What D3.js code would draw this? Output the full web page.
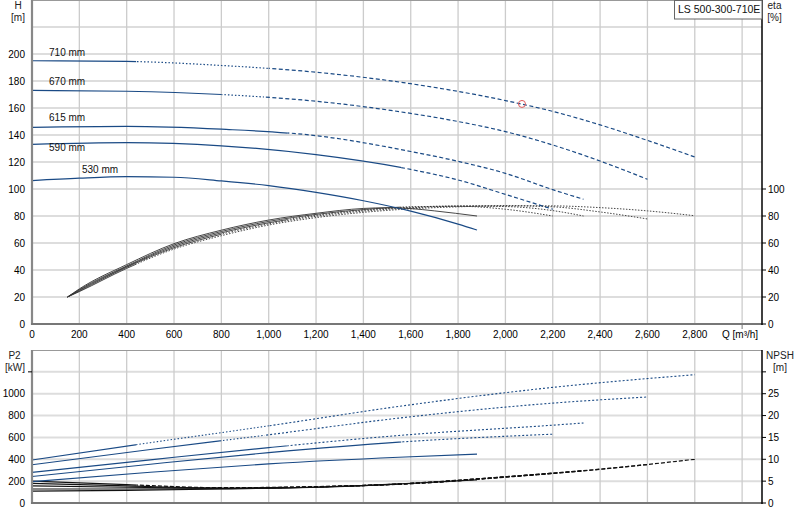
<!DOCTYPE html>
<html>
<head>
<meta charset="utf-8">
<script src="https://cdn.jsdelivr.net/npm/d3@7"></script>
<style>
  body { margin: 0; background: #fff; }
  svg { font-family: "Liberation Sans", Arial, sans-serif; }
</style>
</head>
<body>
<div id="chart"></div>
<script>
// Impeller diameters, largest first
var diameters = ["710 mm", "670 mm", "615 mm", "590 mm", "530 mm"];

// Q-H curves [Q m3/h, H m]
var head710 = [[0,195],[400,194.5],[800,191.5],[1200,186.5],[1600,178],[2000,165.5],[2200,157.5],[2400,147.5],[2600,136],[2800,123.7]];
var head670 = [[0,173],[400,172.4],[800,170],[1200,165],[1600,156],[1800,150],[2000,142.5],[2200,132.6],[2400,120.7],[2600,107.2]];
var head615 = [[0,145.7],[400,146.4],[800,144.3],[1200,139.5],[1600,127.8],[1800,120.5],[2000,111.6],[2200,99.5],[2330,92.4]];
var head590 = [[0,133.1],[400,134.3],[800,132],[1200,125.4],[1600,114.5],[1800,106.7],[2000,96],[2200,85]];
var head530 = [[0,106.2],[200,108],[400,109.1],[600,108.7],[800,106],[1000,102.5],[1200,97.5],[1400,91.3],[1600,83.6],[1800,74],[1880,69.6]];

// efficiency curves [Q, eta %]
var eta710 = [[150,20],[200,24],[400,41.2],[600,55.5],[800,65.4],[1000,73.3],[1200,78.8],[1400,82.7],[1600,85.3],[1800,86.8],[2000,87.6],[2200,87.5],[2400,86.2],[2600,83.8],[2800,80.2]];
var eta670 = [[150,20],[200,24.5],[400,42],[600,56.5],[800,66.5],[1000,74.2],[1200,79.8],[1400,83.6],[1600,86],[1800,87.3],[2000,87.6],[2200,86.8],[2400,83],[2600,77.8]];
var eta615 = [[150,20],[200,25],[400,42.5],[600,57.5],[800,67.5],[1000,75],[1200,80.5],[1400,84.3],[1600,86.5],[1800,87.4],[2000,87],[2200,84],[2330,80]];
var eta590 = [[150,20],[200,25.5],[400,43],[600,58.5],[800,68.5],[1000,76],[1200,81.2],[1400,84.8],[1600,86.8],[1800,87.2],[2000,85],[2200,80]];
var eta530 = [[150,20],[200,26],[400,44],[600,59.5],[800,69.5],[1000,77],[1200,82],[1400,85.6],[1500,86.1],[1600,85.5],[1700,83.8],[1880,80]];

// shaft power P2 [Q, kW]
var power710 = [[0,394],[500,552],[1000,706],[1550,884],[2200,1058],[2800,1174]];
var power670 = [[0,350],[500,490],[1000,624],[1550,777],[2200,914],[2600,970]];
var power615 = [[0,280],[500,395],[1000,507],[1550,618],[2200,712],[2330,732]];
var power590 = [[0,242],[500,355],[1000,461],[1550,557],[2200,630]];
var power530 = [[0,195],[500,282],[1000,358],[1550,419],[1880,447]];

// NPSH [Q, m]
var npsh710 = [[0,5.0],[400,4.2],[800,3.5],[1200,3.75],[1600,4.4],[2000,5.9],[2400,7.7],[2800,10.0]];
var npsh670 = [[0,4.5],[400,3.9],[800,3.4],[1200,3.7],[1600,4.45],[2000,5.95],[2400,7.75],[2600,8.8]];
var npsh615 = [[0,3.9],[400,3.6],[800,3.4],[1200,3.7],[1600,4.5],[2000,6.0],[2330,7.4]];
var npsh590 = [[0,3.2],[400,3.2],[800,3.3],[1200,3.65],[1600,4.5],[2000,6.0],[2200,6.8]];
var npsh530 = [[0,2.7],[400,2.9],[800,3.2],[1200,3.6],[1600,4.5],[1880,5.3]];

// where each curve stops being solid / dotted (Q)
var solidTo = [440, 800, 1080, 1560, 1880];
var dottedTo = [1000, 980, 1080, 1560, 1880];

// duty point
var dutyPoint = [2070, 163];

// tick labels
var qTicks = [0,200,400,600,800,1000,1200,1400,1600,1800,2000,2200,2400,2600,2800];
var hTicks = [0,20,40,60,80,100,120,140,160,180,200];
var etaTicks = [0,20,40,60,80,100];
var p2Ticks = [0,200,400,600,800,1000];
var npshTicks = [0,5,10,15,20,25];

var headCurves = [head710, head670, head615, head590, head530];
var etaCurves = [eta710, eta670, eta615, eta590, eta530];
var powerCurves = [power710, power670, power615, power590, power530];
var npshCurves = [npsh710, npsh670, npsh615, npsh590, npsh530];

var svgWidth = 800;
var svgHeight = 520;
var navy = "#1a4a85";

var svg = d3.select("#chart")
  .append("svg")
  .attr("width", svgWidth)
  .attr("height", svgHeight);
var defs = svg.append("defs");

// scales
var xScale = d3.scaleLinear().domain([0, 3084]).range([32, 762]);
var hScale = d3.scaleLinear().domain([0, 240]).range([324, 0]);
var etaScale = d3.scaleLinear().domain([0, 240]).range([324, 0]);
var p2Scale = d3.scaleLinear().domain([0, 1400]).range([503, 350]);
var npshScale = d3.scaleLinear().domain([0, 35]).range([503, 350]);

// grid
function drawGrid(yScale, yTop, yBottom, hLines) {
  var g = svg.append("g");
  g.selectAll(".hg").data(hLines).enter().append("line")
    .attr("x1", 32).attr("x2", 762)
    .attr("y1", d => yScale(d)).attr("y2", d => yScale(d))
    .attr("stroke", "#dddddd").attr("stroke-width", 2);
  g.selectAll(".vg").data(d3.range(200, 3001, 200)).enter().append("line")
    .attr("x1", d => xScale(d)).attr("x2", d => xScale(d))
    .attr("y1", yTop).attr("y2", yBottom)
    .attr("stroke", "#cccccc").attr("stroke-width", 1.3);
  // frame top
  g.append("line").attr("x1", 32).attr("x2", 762).attr("y1", yTop + 0.5).attr("y2", yTop + 0.5)
    .attr("stroke", "#999").attr("stroke-width", 1);
}
drawGrid(hScale, 0, 324, d3.range(20, 221, 20));
drawGrid(p2Scale, 350, 503, d3.range(200, 1201, 200));

// curve with solid / dotted / dashed segments
var clipCount = 0;
function drawStyled(points, yScale, i, dashes, color, width) {
  var breaks = [0, solidTo[i], dottedTo[i], 99999];
  var line = d3.line()
    .x(d => xScale(d[0]))
    .y(d => yScale(d[1]))
    .curve(d3.curveMonotoneX);
  for (var j = 0; j < 3; j++) {
    if (breaks[j + 1] <= breaks[j]) continue;
    var x0 = j == 0 ? 0 : xScale(breaks[j]);
    var x1 = j == 2 ? svgWidth : xScale(breaks[j + 1]);
    var id = "clip" + (clipCount++);
    defs.append("clipPath").attr("id", id)
      .append("rect").attr("x", x0).attr("y", 0)
      .attr("width", x1 - x0).attr("height", svgHeight);
    svg.append("path")
      .datum(points)
      .attr("d", line)
      .attr("fill", "none")
      .attr("stroke", color)
      .attr("stroke-width", width)
      .attr("stroke-dasharray", dashes[j])
      .attr("clip-path", "url(#" + id + ")");
  }
}

etaCurves.forEach(function(c, i) {
  drawStyled(c, etaScale, i, [null, "1.5,1.5", "1.5,1.5"], "#333", 0.9);
});
npshCurves.forEach(function(c, i) {
  drawStyled(c, npshScale, i, [null, "4,2", "4,2"], "#111", 1.2);
});
headCurves.forEach(function(c, i) {
  drawStyled(c, hScale, i, [null, "1.5,2", "4,2.5"], navy, 1.2);
});
powerCurves.forEach(function(c, i) {
  drawStyled(c, p2Scale, i, [null, "1.5,2", "2,2"], navy, 1.1);
});

// diameter labels
var labelPlace = [
  { q: 72, dy: -5 }, { q: 72, dy: -5.5 }, { q: 72, dy: -6 }, { q: 72, dy: 7 }, { q: 211, dy: -5.7 }
];
svg.selectAll(".dlabel").data(diameters).enter().append("text")
  .attr("x", (d, i) => xScale(labelPlace[i].q))
  .attr("y", (d, i) => hScale(headCurves[i][i == 4 ? 1 : 0][1]) + labelPlace[i].dy)
  .attr("font-size", "10px")
  .attr("fill", "#111")
  .text(d => d);

// duty point
svg.append("circle")
  .attr("cx", xScale(dutyPoint[0]))
  .attr("cy", hScale(dutyPoint[1]))
  .attr("r", 3.5)
  .attr("fill", "none")
  .attr("stroke", "#e05a5a")
  .attr("stroke-width", 1);

// axes lines
svg.append("line").attr("x1", 32).attr("x2", 32).attr("y1", 0).attr("y2", 325)
  .attr("stroke", "#888").attr("stroke-width", 2.2);
svg.append("line").attr("x1", 31).attr("x2", 762).attr("y1", 324).attr("y2", 324)
  .attr("stroke", "#777").attr("stroke-width", 2.2);
svg.append("line").attr("x1", 762).attr("x2", 762).attr("y1", 0).attr("y2", 325)
  .attr("stroke", "#000").attr("stroke-width", 1.5);
svg.append("line").attr("x1", 32).attr("x2", 32).attr("y1", 350).attr("y2", 504)
  .attr("stroke", "#888").attr("stroke-width", 2.2);
svg.append("line").attr("x1", 31).attr("x2", 762).attr("y1", 503).attr("y2", 503)
  .attr("stroke", "#777").attr("stroke-width", 2.2);
svg.append("line").attr("x1", 762).attr("x2", 762).attr("y1", 350).attr("y2", 504)
  .attr("stroke", "#000").attr("stroke-width", 1.5);

// tick labels
var fmt = d3.format(",");
svg.selectAll(".qt").data(qTicks).enter().append("text")
  .attr("x", d => xScale(d)).attr("y", 338)
  .attr("text-anchor", "middle").attr("font-size", "10px").text(d => fmt(d));
svg.append("line").attr("x1", xScale(3000)).attr("x2", xScale(3000)).attr("y1", 324).attr("y2", 329)
  .attr("stroke", "#777");
svg.append("text").attr("x", 722).attr("y", 338).attr("font-size", "10px")
  .text("Q [m\u00b3/h]");

svg.selectAll(".ht").data(hTicks).enter().append("text")
  .attr("x", 25).attr("y", d => hScale(d) + 3.5)
  .attr("text-anchor", "end").attr("font-size", "10px").text(d => d);
svg.selectAll(".et").data(etaTicks).enter().append("text")
  .attr("x", 768).attr("y", d => etaScale(d) + 3.5)
  .attr("font-size", "10px").text(d => d);
svg.selectAll(".etk").data(etaTicks).enter().append("line")
  .attr("x1", 762).attr("x2", 766).attr("y1", d => etaScale(d)).attr("y2", d => etaScale(d))
  .attr("stroke", "#000");

svg.selectAll(".pt").data(p2Ticks).enter().append("text")
  .attr("x", 25).attr("y", d => p2Scale(d) + 3.5)
  .attr("text-anchor", "end").attr("font-size", "10px").text(d => d);
svg.append("line").attr("x1", 28).attr("x2", 32).attr("y1", p2Scale(1200)).attr("y2", p2Scale(1200))
  .attr("stroke", "#000");
svg.selectAll(".nt").data(npshTicks).enter().append("text")
  .attr("x", 768).attr("y", d => npshScale(d) + 3.5)
  .attr("font-size", "10px").text(d => d);
svg.selectAll(".ntk").data(npshTicks.concat([30])).enter().append("line")
  .attr("x1", 762).attr("x2", 766).attr("y1", d => npshScale(d)).attr("y2", d => npshScale(d))
  .attr("stroke", "#000");

// axis titles
function title(x, y, t) {
  svg.append("text").attr("x", x).attr("y", y).attr("text-anchor", "middle")
    .attr("font-size", "10px").attr("fill", "#222").text(t);
}
title(18, 9, "H");
title(18, 21, "[m]");
title(774.5, 9, "eta");
title(774.5, 21, "[%]");
title(14.5, 359, "P2");
title(15, 370.5, "[kW]");
title(780, 359, "NPSH");
title(780, 370.5, "[m]");

// product name box
svg.append("rect").attr("x", 674.5).attr("y", 0.5).attr("width", 87.5).attr("height", 18.5)
  .attr("fill", "#fff").attr("stroke", "#666");
svg.append("text").attr("x", 678).attr("y", 13).attr("font-size", "10.5px")
  .attr("fill", "#111").text("LS 500-300-710E");
</script>
</body>
</html>
